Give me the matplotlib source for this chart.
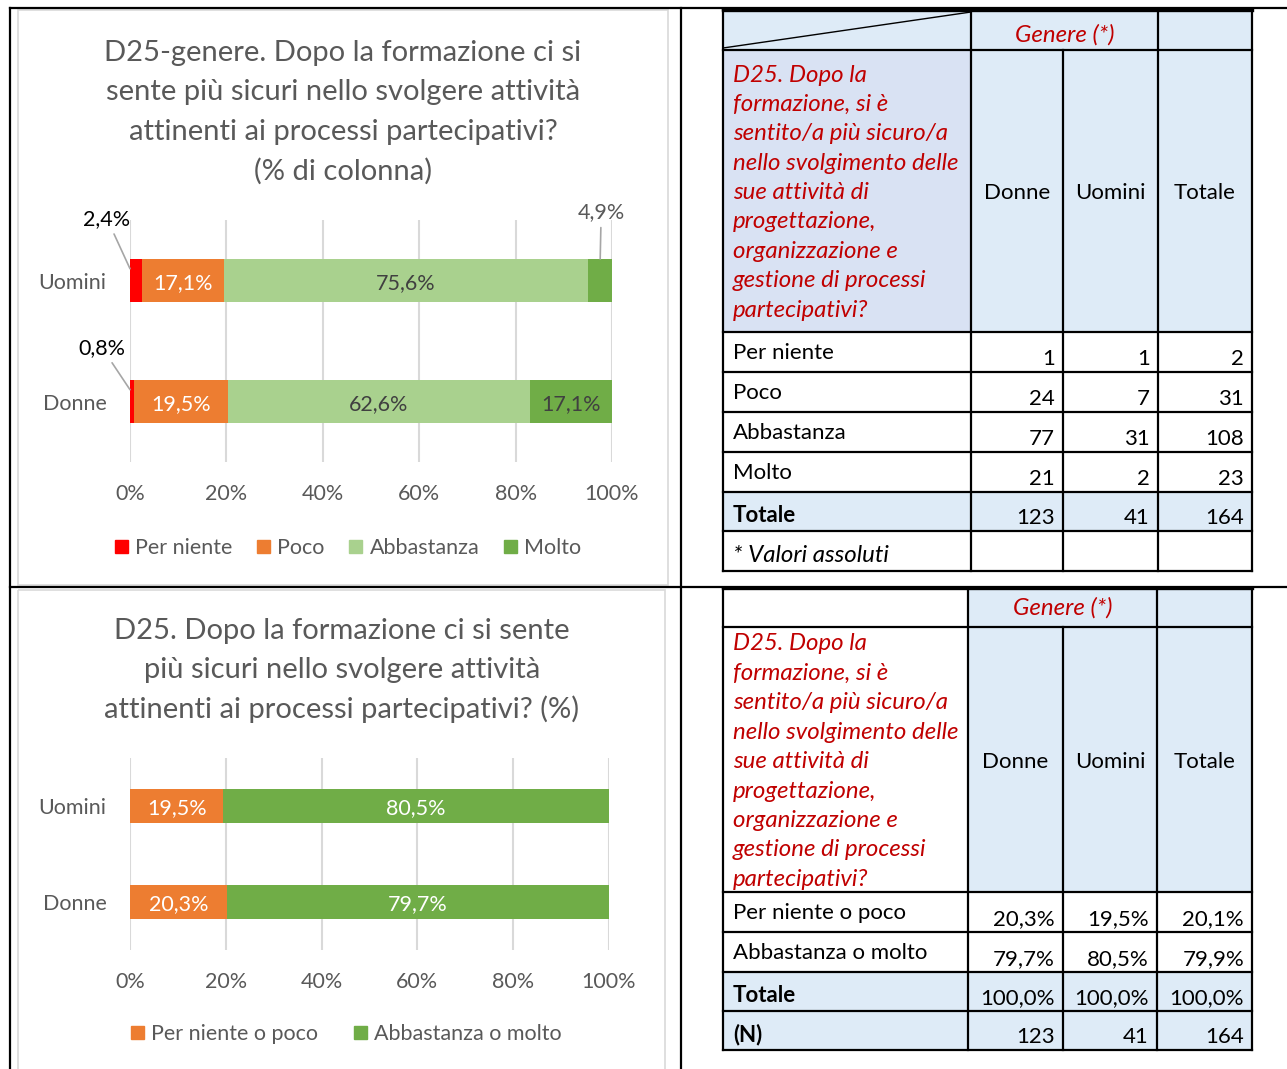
import numpy as np
import matplotlib
matplotlib.use('Agg')
import matplotlib.pyplot as plt
from matplotlib.patches import Patch, Rectangle

plt.rcParams['font.family'] = ['Lato', 'DejaVu Sans']

W, H = 1287, 1069

# ---- data ----
gruppi = ['Donne', 'Uomini']
risposte4 = ['Per niente', 'Poco', 'Abbastanza', 'Molto']
donne_pct4 = [0.8, 19.5, 62.6, 17.1]
uomini_pct4 = [2.4, 17.1, 75.6, 4.9]
colori4 = ['#FF0000', '#ED7D31', '#A9D18E', '#70AD47']

risposte2 = ['Per niente o poco', 'Abbastanza o molto']
donne_pct2 = [20.3, 79.7]
uomini_pct2 = [19.5, 80.5]
totale_pct2 = [20.1, 79.9]
colori2 = ['#ED7D31', '#70AD47']

donne_n = [1, 24, 77, 21]
uomini_n = [1, 7, 31, 2]
totale_n = [2, 31, 108, 23]
n_tot = [123, 41, 164]

titolo1 = ['D25-genere. Dopo la formazione ci si',
           'sente più sicuri nello svolgere attività',
           'attinenti ai processi partecipativi?',
           '(% di colonna)']
titolo2 = ['D25. Dopo la formazione ci si sente',
           'più sicuri nello svolgere attività',
           'attinenti ai processi partecipativi? (%)']
domanda = ['D25. Dopo la', 'formazione, si è', 'sentito/a più sicuro/a',
           'nello svolgimento delle', 'sue attività di', 'progettazione,',
           'organizzazione e', 'gestione di processi', 'partecipativi?']
ticks = [0, 20, 40, 60, 80, 100]

GRAY = '#595959'
RED = '#C00000'
BLUE = '#DEEBF7'
LAV = '#D9E2F3'
FS = 15.5     # chart text
TFS = 16      # table text
IFS = 17.3    # table italic text


def pct(v):
    return ('%.1f' % v).replace('.', ',') + '%'


def fx(x):
    return x / W


def fy(y):
    return 1 - y / H


fig = plt.figure(figsize=(W / 100, H / 100), dpi=100)

# overlay in pixel coordinates for page grid and tables
ov = fig.add_axes([0, 0, 1, 1], zorder=0)
ov.set_xlim(0, W)
ov.set_ylim(H, 0)
ov.axis('off')

# page borders
ov.plot([10, 10], [8, H], color='k', lw=1.6)
ov.plot([10, W], [8, 8], color='k', lw=1.6)
ov.plot([681, 681], [8, H], color='k', lw=1.6)
ov.plot([10, W], [587, 587], color='k', lw=1.6)
# chart frames
ov.add_patch(Rectangle((18, 10), 650, 575, fill=False, ec='#D9D9D9', lw=1.2))
ov.add_patch(Rectangle((18, 590), 647, 490, fill=False, ec='#D9D9D9', lw=1.2))


def line(x0, y0, x1, y1, lw=1.6):
    ov.plot([x0, x1], [y0, y1], color='k', lw=lw, solid_capstyle='projecting')


def fill(x0, y0, x1, y1, c):
    ov.add_patch(Rectangle((x0, y0), x1 - x0, y1 - y0, color=c, lw=0))


def tabella(cols, rows, head_first_fill, quest_fill, diag, body_labels, body_vals,
            shaded, footnote, genere_dy, quest_dy):
    x0, x1, x2, x3, x4 = cols
    # fills
    fill(x0, rows[0], x1, rows[1], head_first_fill)
    fill(x1, rows[0], x4, rows[1], BLUE)
    fill(x0, rows[1], x1, rows[2], quest_fill)
    fill(x1, rows[1], x4, rows[2], BLUE)
    for i in shaded:
        fill(x0, rows[2 + i], x4, rows[3 + i], BLUE)
    # lines
    for y in rows:
        line(x0, y, x4, y)
    line(x0, rows[0], x4, rows[0], lw=2.4)
    for x in (x0, x1, x3, x4):
        line(x, rows[0], x, rows[-1])
    line(x2, rows[1], x2, rows[-1])
    if diag:
        ov.plot([x0, x1], [rows[1] - 2, rows[0] + 2], color='k', lw=1.0)
    # header texts
    ov.text((x1 + x3) / 2, rows[0] + genere_dy, 'Genere (*)', color=RED,
            style='italic', fontsize=IFS, ha='center', va='center')
    for k, s in enumerate(domanda):
        ov.text(x0 + 10, rows[1] + quest_dy + k * 29.4, s, color=RED, style='italic',
                fontsize=IFS, ha='left', va='center')
    ymid = (rows[1] + rows[2]) / 2 + 2
    for (a, b), s in zip([(x1, x2), (x2, x3), (x3, x4)], ['Donne', 'Uomini', 'Totale']):
        ov.text((a + b) / 2, ymid, s, fontsize=TFS, ha='center', va='center', color='k')
    # body
    for i, lab in enumerate(body_labels):
        top, bot = rows[2 + i], rows[3 + i]
        bold = lab in ('Totale', '(N)')
        ov.text(x0 + 10, top + (24 if bold else 21), lab, fontsize=TFS, ha='left',
                va='center', color='k', weight='bold' if bold else 'normal')
        for (a, b), v in zip([(x1, x2), (x2, x3), (x3, x4)], body_vals[i]):
            ov.text(b - 8, bot - 7, v, fontsize=TFS, ha='right', va='baseline', color='k')
    if footnote:
        top = rows[-2]
        ov.text(x0 + 10, top + 25, footnote, fontsize=IFS, style='italic',
                ha='left', va='center', color='k')


vals1 = [[str(d), str(u), str(t)] for d, u, t in zip(donne_n, uomini_n, totale_n)]
vals1.append([str(v) for v in n_tot])
tabella([723, 971, 1063, 1158, 1252],
        [10, 50, 332, 372, 412, 452, 492, 531, 571],
        BLUE, LAV, True,
        risposte4 + ['Totale'], vals1, [4], '* Valori assoluti', 25, 25)

vals2 = [[pct(d), pct(u), pct(t)] for d, u, t in zip(donne_pct2, uomini_pct2, totale_pct2)]
vals2.append([pct(100.0)] * 3)
vals2.append([str(v) for v in n_tot])
tabella([723, 968, 1063, 1157, 1252],
        [588, 627, 892, 932, 972, 1011, 1050],
        'white', 'white', False,
        risposte2 + ['Totale', '(N)'], vals2, [2, 3], None, 20, 17)


# ---- charts ----
def grafico(px0, px1, py0, py1, bh, serie, colori):
    ax = fig.add_axes([fx(px0), fy(py1), fx(px1 - px0), (py1 - py0) / H], zorder=2)
    ax.patch.set_alpha(0)
    ax.set_xlim(0, 100)
    ax.set_ylim(-0.5, 1.5)
    for s in ax.spines.values():
        s.set_visible(False)
    ax.set_xticks(ticks)
    ax.set_xticklabels(['%d%%' % t for t in ticks])
    ax.tick_params(axis='x', length=0, pad=16, labelsize=FS, labelcolor=GRAY)
    ax.set_yticks([0, 1])
    ax.set_yticklabels(gruppi)
    ax.tick_params(axis='y', length=0, pad=17, labelsize=FS, labelcolor=GRAY)
    ax.grid(axis='x', color='#D9D9D9', lw=1.5)
    ax.set_axisbelow(True)
    y = np.arange(len(gruppi))
    left = np.zeros(len(gruppi))
    bars = []
    for j in range(len(colori)):
        vals = np.array([s[j] for s in serie])
        ax.barh(y, vals, left=left, height=bh, color=colori[j], lw=0)
        bars.append((vals, left.copy()))
        left = left + vals
    return ax, bars


bh1 = 0.355
ax1, bars1 = grafico(130, 612, 220, 462, bh1, [donne_pct4, uomini_pct4], colori4)
# inner labels chart 1
lab_col4 = ['k', 'white', '#404040', '#404040']
for j, (vals, lefts) in enumerate(bars1):
    for i, (v, l) in enumerate(zip(vals, lefts)):
        if v >= 10:
            ax1.text(l + v / 2, i - 0.02, pct(v), ha='center', va='center', fontsize=FS,
                     color=lab_col4[j])

# leader-line labels
ap = dict(arrowstyle='-', color='#A6A6A6', lw=1.2, shrinkA=2, shrinkB=0)
ax1.annotate(pct(uomini_pct4[0]), xy=(0.0, 1 + bh1 / 2 - 0.08), xytext=(-23, 50),
             textcoords='offset pixels', ha='center', va='center', fontsize=FS,
             color='k', arrowprops=ap)
ax1.annotate(pct(donne_pct4[0]), xy=(0.0, bh1 / 2 - 0.08), xytext=(-28, 42),
             textcoords='offset pixels', ha='center', va='center', fontsize=FS,
             color='k', arrowprops=ap)
ax1.annotate(pct(uomini_pct4[3]), xy=(100 - uomini_pct4[3] / 2, 1 + bh1 / 2),
             xytext=(1, 47), textcoords='offset pixels', ha='center', va='center',
             fontsize=FS, color=GRAY, arrowprops=ap)

ax2, bars2 = grafico(130, 609, 758, 950, 0.354, [donne_pct2, uomini_pct2], colori2)
for j, (vals, lefts) in enumerate(bars2):
    for i, (v, l) in enumerate(zip(vals, lefts)):
        ax2.text(l + v / 2, i - 0.02, pct(v), ha='center', va='center', fontsize=FS,
                 color='white')

# titles
for k, s in enumerate(titolo1):
    fig.text(fx(343), fy(53 + k * 39.3), s, ha='center', va='center', fontsize=21,
             color=GRAY)
for k, s in enumerate(titolo2):
    fig.text(fx(342), fy(631 + k * 39.3), s, ha='center', va='center', fontsize=21,
             color=GRAY)

# legends
h1 = [Patch(color=c, label=l) for c, l in zip(colori4, risposte4)]
fig.legend(handles=h1, loc='center', bbox_to_anchor=(fx(348), fy(548)), ncol=4,
           frameon=False, fontsize=FS, labelcolor=GRAY, handlelength=0.6,
           handleheight=0.6, handletextpad=0.33, columnspacing=1.16)
h2 = [Patch(color=c, label=l) for c, l in zip(colori2, risposte2)]
fig.legend(handles=h2, loc='center', bbox_to_anchor=(fx(346), fy(1034)), ncol=2,
           frameon=False, fontsize=FS, labelcolor=GRAY, handlelength=0.6,
           handleheight=0.6, handletextpad=0.33, columnspacing=1.67)

fig.savefig('out.png', dpi=100)
